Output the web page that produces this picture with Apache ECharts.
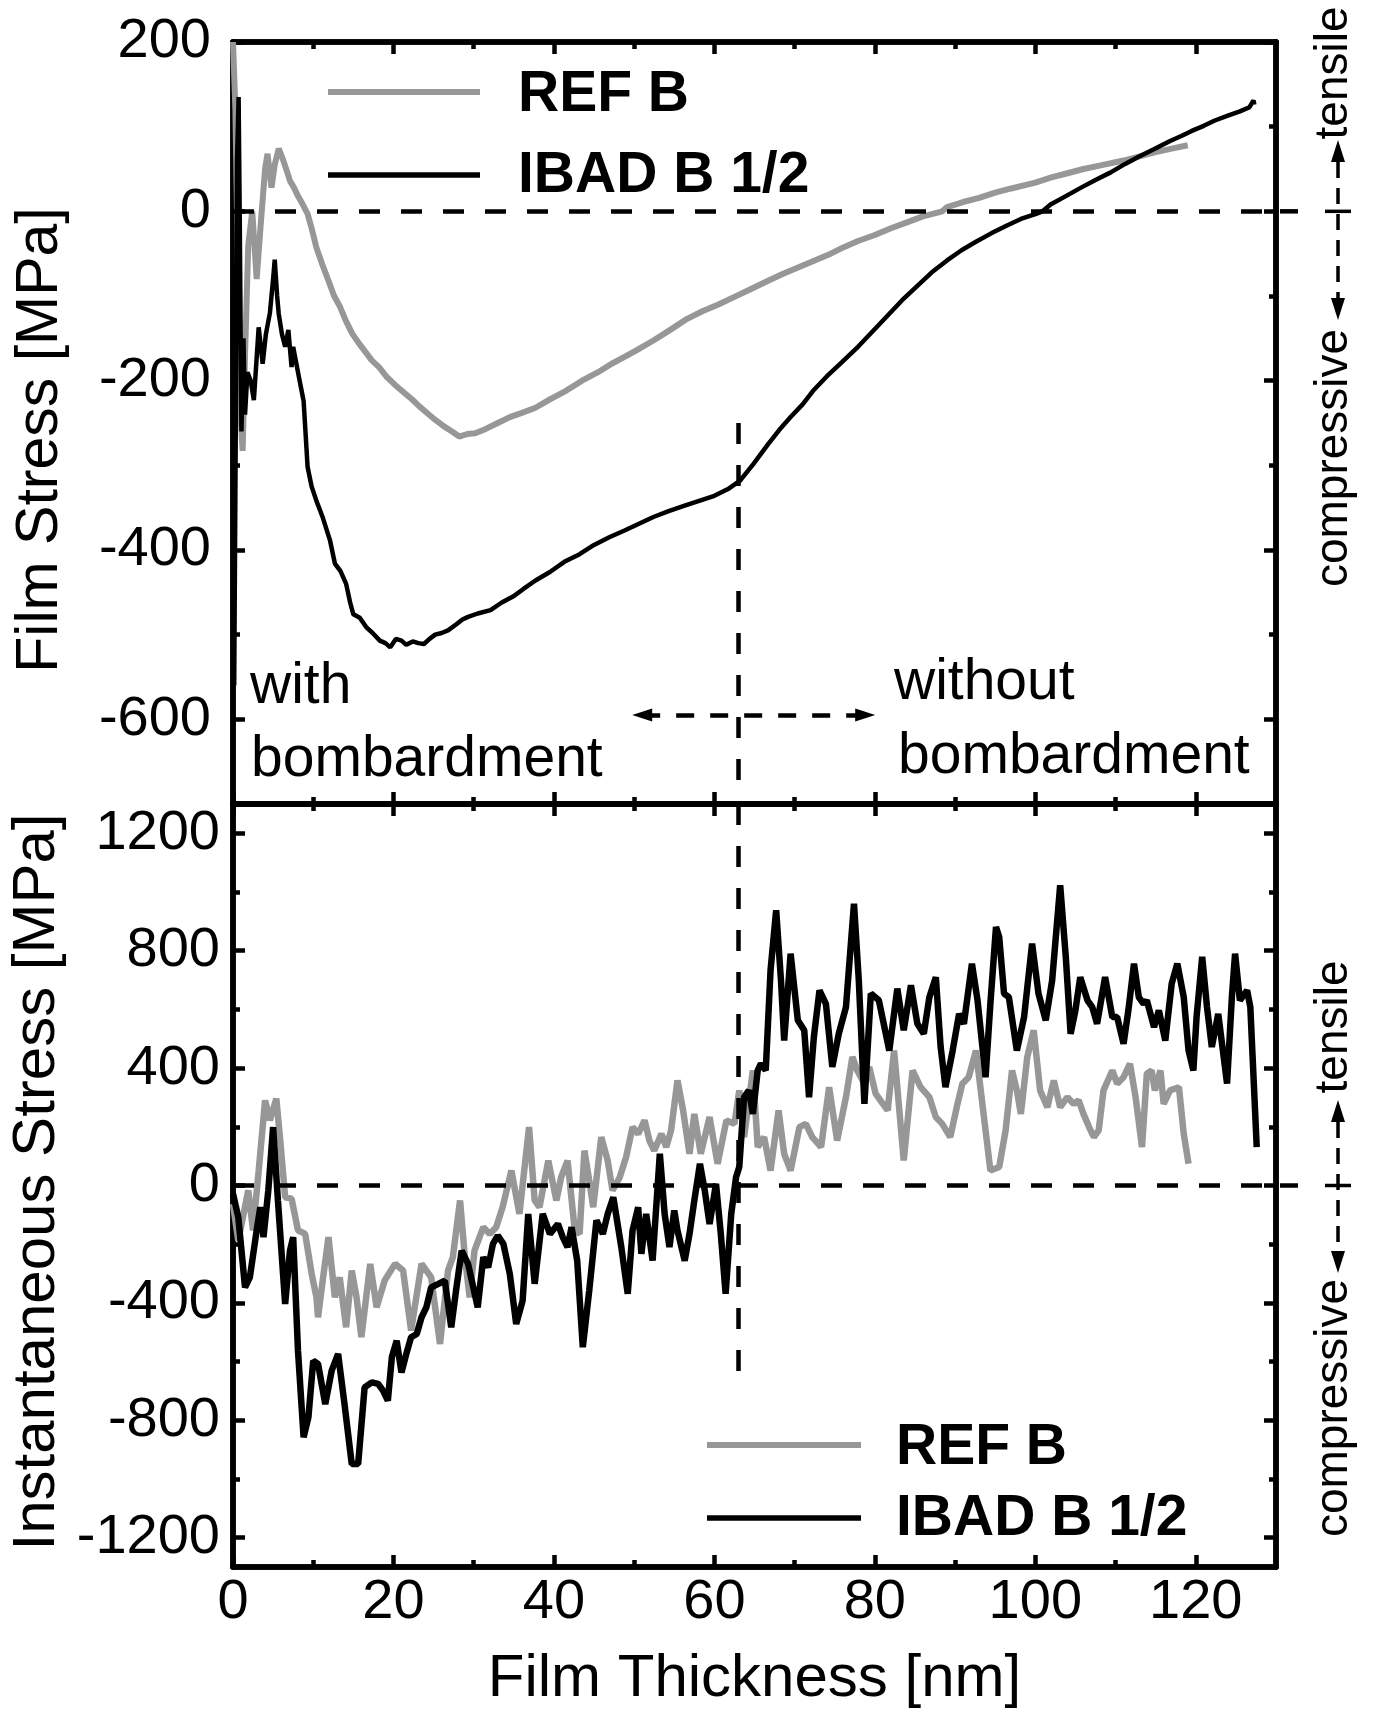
<!DOCTYPE html>
<html><head><meta charset="utf-8">
<script src="https://cdn.jsdelivr.net/npm/echarts@6/dist/echarts.min.js"></script>
<style>html,body{margin:0;padding:0;background:#fff}#c{width:1381px;height:1716px}</style>
</head><body><div id="c"></div>
<script>
// ---------------- data ----------------
const xTicks = [0, 20, 40, 60, 80, 100, 120];
const xMinorTicks = [10, 30, 50, 70, 90, 110];
const filmTicks = [-600, -400, -200, 0, 200];
const filmMinorTicks = [-500, -300, -100, 100];
const instTicks = [-1200, -800, -400, 0, 400, 800, 1200];
const instMinorTicks = [-1000, -600, -200, 200, 600, 1000];
const seriesNames = ['REF B', 'IBAD B 1/2'];
const boundaryThickness = 63;

// film stress vs thickness, REF B  [nm, MPa]
const refFilm = [[0,200],[0.3,120],[0.7,-120],[1.0,-250],[1.2,-283],[1.5,-170],[1.9,-40],[2.4,0],[2.95,-80],[3.5,-10],[4.0,50],[4.3,68],[4.8,28],[5.2,55],[5.7,74],[6.2,62],[6.7,48],[7.1,36],[7.6,28],[8.1,18],[8.7,8],[9.3,-3],[9.8,-20],[10.4,-43],[11.1,-62],[11.9,-82],[12.6,-100],[13.3,-112],[14.1,-130],[14.9,-145],[15.7,-156],[16.5,-166],[17.3,-176],[18.2,-184],[19.2,-196],[20.2,-205],[21.3,-214],[22.3,-222],[23.3,-231],[24.3,-239],[25.3,-247],[26.3,-254],[27.3,-260],[28.2,-266],[29.2,-263],[30.2,-262],[31.5,-257],[33.0,-250],[34.5,-243],[36.0,-238],[37.7,-232],[39.5,-222],[41.5,-212],[43.5,-200],[45.5,-190],[47.2,-180],[48.8,-172],[50.5,-163],[52.5,-152],[54.5,-140],[56.6,-127],[58.5,-118],[60.5,-110],[62.5,-101],[64.5,-92],[66.7,-82],[68.5,-74],[70.5,-66],[72.5,-58],[74.5,-50],[76.2,-42],[77.9,-35],[80,-28],[82,-20],[84,-13],[86,-6],[88.4,0],[89,5],[91,11],[93,16],[95,22],[97,27],[100,34],[102,40],[104,45],[106,50],[108,54],[111,60],[113,65],[115,70],[117,74],[119,78]];

// film stress vs thickness, IBAD B 1/2
const ibadFilm = [[0,-100],[0.15,-560],[0.35,-250],[0.5,60],[0.7,135],[0.85,-20],[1.05,-260],[1.3,-150],[1.5,-240],[1.8,-190],[2.2,-200],[2.6,-223],[3.2,-137],[3.7,-180],[4.1,-145],[4.6,-120],[5.0,-80],[5.2,-57],[5.5,-100],[5.7,-121],[6.1,-145],[6.5,-160],[6.9,-140],[7.3,-184],[7.5,-160],[8.2,-195],[8.8,-224],[9.3,-302],[9.8,-325],[10.4,-342],[11.2,-362],[12.1,-389],[12.7,-416],[13.4,-425],[14.1,-440],[14.6,-462],[15.0,-476],[15.8,-480],[16.6,-491],[17.4,-498],[18.3,-507],[19.0,-510],[19.6,-515],[20.3,-505],[21.0,-507],[21.6,-512],[22.4,-508],[23.1,-510],[23.8,-511],[24.5,-505],[25.2,-500],[26.0,-498],[26.8,-495],[27.8,-488],[28.6,-482],[29.3,-479],[30.5,-475],[32.1,-471],[33.5,-462],[34.9,-455],[36.2,-446],[37.7,-436],[39.5,-426],[41.3,-414],[43.2,-405],[45,-394],[46.9,-385],[48.8,-377],[50.6,-369],[52.4,-361],[54.3,-354],[56.2,-348],[58.1,-342],[60,-336],[61.7,-328],[63.2,-318],[64.9,-298],[66.7,-275],[68.1,-258],[69.5,-243],[71,-228],[72.3,-212],[74,-195],[75.9,-178],[77.9,-160],[79.8,-141],[81.6,-123],[83.4,-105],[85.3,-88],[87.1,-72],[89,-58],[90.8,-46],[92.6,-36],[94.5,-26],[96.4,-17],[98.2,-9],[100.1,-3],[100.9,0],[101.9,8],[103.8,18],[105.7,28],[107.5,37],[109.4,46],[111.2,56],[113,65],[114.9,74],[116.8,83],[118.2,89],[119.5,95],[121,101],[122.3,107],[124,113],[125.5,118],[126.7,123],[127.2,131],[127.3,126]];

// instantaneous stress vs thickness, REF B
const refInst = [[0,-63],[0.66,-188],[1.9,-17],[2.5,-153],[3.2,50],[4.0,290],[4.6,222],[5.4,296],[5.9,150],[6.5,-40],[7.3,-45],[8.1,-153],[9.0,-165],[9.8,-300],[10.4,-381],[10.6,-449],[11.2,-320],[11.9,-176],[12.7,-381],[13.3,-313],[14.1,-483],[14.8,-290],[15.4,-381],[16.0,-517],[17.1,-267],[17.9,-415],[18.9,-324],[20.2,-267],[21.2,-290],[22.2,-494],[23.5,-267],[24.7,-313],[25.8,-540],[26.8,-290],[27.4,-244],[28.3,-51],[28.9,-244],[29.5,-381],[30.1,-222],[31.2,-142],[32.0,-165],[32.8,-142],[33.6,-74],[34.7,51],[35.7,-97],[36.9,199],[37.6,-51],[38.2,-74],[39.3,85],[40.3,-51],[40.9,28],[41.7,85],[42.6,-153],[43.2,-165],[43.8,119],[44.4,17],[44.9,-74],[45.9,165],[46.7,85],[47.3,-17],[48.2,28],[49.0,97],[49.8,199],[50.5,176],[51.3,222],[51.9,153],[52.5,119],[53.4,176],[54.0,131],[54.6,188],[55.4,358],[56.1,256],[56.9,108],[57.5,244],[58.3,108],[59.4,233],[60.4,74],[61.5,222],[62.5,210],[63.1,324],[63.7,165],[64.8,392],[65.4,131],[66.2,165],[67.0,51],[68.0,256],[68.7,108],[69.5,51],[70.6,199],[71.4,210],[72.2,165],[73.3,131],[74.3,335],[75.3,153],[76.4,301],[77.2,438],[77.8,392],[78.7,347],[79.3,404],[80.1,313],[81.0,278],[81.6,256],[82.4,460],[83.6,85],[84.7,392],[85.7,335],[86.8,301],[87.6,233],[88.4,210],[89.4,165],[90.3,278],[90.9,347],[91.7,369],[92.6,460],[93.8,188],[94.4,51],[95.5,63],[96.3,188],[97.1,392],[97.7,324],[98.2,244],[99.0,438],[99.8,529],[100.6,324],[101.5,267],[102.3,358],[103.1,267],[104.0,301],[104.8,278],[105.4,290],[106.0,244],[106.7,199],[107.3,165],[107.9,188],[108.5,324],[109.6,392],[110.2,347],[111.0,369],[111.8,415],[112.5,301],[113.3,131],[113.9,381],[114.5,392],[114.9,324],[115.6,392],[116.0,278],[116.8,324],[117.9,335],[118.5,176],[119.1,74]];

// instantaneous stress vs thickness, IBAD B 1/2
const ibadInst = [[0,-28],[0.66,-108],[1.5,-347],[2.1,-313],[2.95,-153],[3.4,-74],[3.8,-176],[4.4,-17],[5.0,199],[5.6,-51],[6.5,-404],[7.1,-222],[7.5,-176],[8.1,-563],[8.8,-858],[9.4,-790],[10.0,-597],[10.6,-608],[11.5,-745],[12.3,-631],[13.1,-574],[13.9,-745],[14.8,-949],[15.6,-949],[16.4,-688],[17.3,-671],[18.1,-676],[18.7,-699],[19.3,-733],[19.8,-585],[20.4,-529],[21.0,-637],[21.6,-574],[22.2,-517],[22.9,-506],[23.5,-449],[24.1,-415],[24.7,-347],[25.6,-335],[26.4,-324],[27.2,-483],[27.8,-358],[28.5,-222],[29.3,-267],[30.5,-415],[31.2,-244],[31.8,-279],[32.4,-199],[33.0,-171],[33.7,-199],[34.5,-301],[35.3,-472],[36.1,-392],[36.8,-97],[37.6,-335],[38.6,-97],[39.5,-165],[40.5,-131],[41.1,-176],[41.7,-210],[42.2,-142],[42.9,-256],[43.6,-551],[44.4,-358],[45.3,-119],[46.1,-165],[46.7,-97],[47.4,-40],[48.4,-210],[49.2,-369],[49.8,-153],[50.5,-74],[50.9,-233],[51.5,-97],[52.3,-256],[53.2,108],[53.8,-97],[54.4,-210],[55.0,-85],[55.4,-153],[56.3,-256],[56.9,-165],[57.5,-51],[58.2,74],[58.8,-17],[59.4,-131],[60.2,6],[60.8,-165],[61.4,-369],[62.1,-97],[62.7,28],[63.1,63],[63.7,301],[64.3,324],[64.8,244],[65.4,392],[65.8,415],[66.4,392],[67.0,733],[67.7,938],[68.3,699],[68.7,494],[69.5,790],[70.4,563],[71.2,529],[71.8,301],[72.4,506],[73.1,665],[73.9,619],[74.7,404],[75.5,517],[76.4,608],[77.4,960],[78.0,699],[78.7,278],[79.5,654],[80.5,631],[81.8,460],[82.8,671],[83.6,529],[84.5,682],[85.3,551],[86.1,517],[86.8,642],[87.6,710],[88.2,472],[88.8,335],[89.7,460],[90.5,585],[91.1,551],[92.1,756],[92.8,631],[93.8,369],[94.4,619],[95.1,881],[95.5,847],[96.1,654],[96.7,642],[97.7,460],[98.6,574],[99.6,824],[100.4,654],[101.3,563],[102.1,699],[103.1,1023],[103.8,779],[104.4,517],[105.0,597],[105.6,710],[106.5,631],[107.1,608],[107.7,551],[108.7,710],[109.6,574],[110.2,574],[111.0,483],[111.6,597],[112.3,756],[112.9,642],[113.5,619],[113.9,631],[114.8,540],[115.4,597],[116.2,494],[117.0,688],[117.7,756],[118.5,642],[119.1,460],[119.7,392],[120.1,574],[120.8,779],[121.4,608],[122.0,472],[122.8,585],[123.9,347],[124.5,642],[124.9,790],[125.5,631],[126.4,665],[126.8,608],[127.6,131]];

// ---------------- chart ----------------
const FONT = 'Liberation Sans, Arial, Helvetica, sans-serif';
const GRAY = '#979797';
const AXL = {color: '#000', width: 5.5};
const TKL = {color: '#000', width: 4.5};
const plain = v => String(v);

function xAx(gridIndex, position, ticks, len, label, extra) {
  return Object.assign({
    type: 'value', gridIndex, position, min: 0, max: 130,
    axisLine: {show: true, onZero: false, lineStyle: AXL},
    axisTick: {show: true, inside: true, length: len, customValues: ticks, lineStyle: TKL},
    axisLabel: label ? {show: true, customValues: ticks, formatter: plain, fontSize: 56, color: '#000', margin: 8, fontFamily: FONT} : {show: false},
    splitLine: {show: false}
  }, extra || {});
}
function yAx(gridIndex, position, min, max, ticks, len, label, margin) {
  return {
    type: 'value', gridIndex, position, min, max,
    axisLine: {show: true, onZero: false, lineStyle: AXL},
    axisTick: {show: true, inside: true, length: len, customValues: ticks, lineStyle: TKL},
    axisLabel: label ? {show: true, customValues: ticks, formatter: plain, fontSize: 56, color: '#000', margin: margin, fontFamily: FONT} : {show: false},
    splitLine: {show: false}
  };
}

const chart = echarts.init(document.getElementById('c'), null, {renderer: 'canvas'});

const dashed = {color: '#000', width: 4.5, type: [21, 21]};

const option = {
  animation: false,
  backgroundColor: '#fff',
  textStyle: {fontFamily: FONT},
  grid: [
    {left: 233, top: 42, width: 1043, height: 762},
    {left: 233, top: 804, width: 1043, height: 763}
  ],
  xAxis: [
    xAx(0, 'bottom', xTicks, 12, false),
    xAx(0, 'top', xTicks, 12, false),
    xAx(0, 'bottom', xMinorTicks, 7, false),
    xAx(0, 'top', xMinorTicks, 7, false),
    xAx(1, 'bottom', xTicks, 12, true, {name: 'Film Thickness [nm]', nameLocation: 'middle', nameGap: 82,
      nameTextStyle: {fontSize: 60, color: '#000', fontFamily: FONT}}),
    xAx(1, 'top', xTicks, 12, false),
    xAx(1, 'bottom', xMinorTicks, 7, false),
    xAx(1, 'top', xMinorTicks, 7, false)
  ],
  yAxis: [
    yAx(0, 'left', -700, 200, filmTicks, 12, true, 22),
    yAx(0, 'right', -700, 200, filmTicks, 12, false),
    yAx(0, 'left', -700, 200, filmMinorTicks, 7, false),
    yAx(0, 'right', -700, 200, filmMinorTicks, 7, false),
    yAx(1, 'left', -1300, 1300, instTicks, 12, true, 13),
    yAx(1, 'right', -1300, 1300, instTicks, 12, false),
    yAx(1, 'left', -1300, 1300, instMinorTicks, 7, false),
    yAx(1, 'right', -1300, 1300, instMinorTicks, 7, false)
  ],
  series: [
    {type: 'line', name: seriesNames[0], xAxisIndex: 0, yAxisIndex: 0, data: refFilm, symbol: 'none',
      lineStyle: {color: GRAY, width: 6}, itemStyle: {color: GRAY}, z: 2,
      markLine: {silent: true, symbol: 'none', label: {show: false}, lineStyle: dashed, animation: false,
        data: [
          {yAxis: 0},
          [{coord: [boundaryThickness, -250]}, {coord: [boundaryThickness, -700]}]
        ]}},
    {type: 'line', name: seriesNames[1], xAxisIndex: 0, yAxisIndex: 0, data: ibadFilm, symbol: 'none',
      lineStyle: {color: '#000', width: 4.5}, itemStyle: {color: '#000'}, z: 3,
      markLine: {silent: true, symbol: ['triangle', 'triangle'], symbolSize: [13, 20], label: {show: false},
        lineStyle: {color: '#000', width: 4.5, type: [18, 16]}, animation: false,
        data: [[{coord: [51.0, -595]}, {coord: [78.8, -595]}]]}},
    {type: 'line', name: seriesNames[0], xAxisIndex: 4, yAxisIndex: 4, data: refInst, symbol: 'none',
      lineStyle: {color: GRAY, width: 6.5}, itemStyle: {color: GRAY}, z: 2,
      markLine: {silent: true, symbol: 'none', label: {show: false}, lineStyle: dashed, animation: false,
        data: [
          {yAxis: 0},
          [{coord: [boundaryThickness, 1300]}, {coord: [boundaryThickness, -655]}]
        ]}},
    {type: 'line', name: seriesNames[1], xAxisIndex: 4, yAxisIndex: 4, data: ibadInst, symbol: 'none',
      lineStyle: {color: '#000', width: 6.5}, itemStyle: {color: '#000'}, z: 3}
  ]
};
chart.setOption(option);

// ---------- annotations (positions derived from the axes) ----------
const y0Top = chart.convertToPixel({xAxisIndex: 0, yAxisIndex: 0}, [0, 0])[1];
const y0Bot = chart.convertToPixel({xAxisIndex: 4, yAxisIndex: 4}, [0, 0])[1];
const xRight = chart.convertToPixel({xAxisIndex: 0, yAxisIndex: 0}, [130, 0])[0];

function sideNote(y0, upTip, downTip, tenY, compY) {
  const x = 1338;
  const ah = 22, aw = 7;
  return [
    {type: 'line', shape: {x1: xRight + 4, y1: y0, x2: xRight + 22, y2: y0}, style: {stroke: '#000', lineWidth: 4.5}},
    {type: 'line', shape: {x1: x - 13, y1: y0, x2: x + 13, y2: y0}, style: {stroke: '#000', lineWidth: 3.5}},
    {type: 'line', shape: {x1: x, y1: upTip + ah, x2: x, y2: downTip - ah}, style: {stroke: '#000', lineWidth: 3.5, lineDash: [16, 10]}},
    {type: 'polygon', shape: {points: [[x, upTip], [x - aw, upTip + ah], [x + aw, upTip + ah]]}, style: {fill: '#000'}},
    {type: 'polygon', shape: {points: [[x, downTip], [x - aw, downTip - ah], [x + aw, downTip - ah]]}, style: {fill: '#000'}},
    {type: 'text', x: 1334, y: tenY, rotation: Math.PI / 2,
      style: {text: 'tensile', fontSize: 46, fontFamily: FONT, fill: '#000', align: 'center', verticalAlign: 'middle'}},
    {type: 'text', x: 1334, y: compY, rotation: Math.PI / 2,
      style: {text: 'compressive', fontSize: 46, fontFamily: FONT, fill: '#000', align: 'center', verticalAlign: 'middle'}}
  ];
}
function txt(text, x, y, size, bold) {
  return {type: 'text', x, y, style: {text, fontSize: size, fontWeight: bold ? 'bold' : 'normal', fontFamily: FONT, fill: '#000', align: 'left', verticalAlign: 'middle'}};
}
// legend key: sample line + series name, for each panel
function legendKey(x1, x2, yRef, yIbad, textX) {
  return [
    {type: 'line', shape: {x1, y1: yRef, x2, y2: yRef}, style: {stroke: GRAY, lineWidth: 6}},
    {type: 'line', shape: {x1, y1: yIbad, x2, y2: yIbad}, style: {stroke: '#000', lineWidth: 5.5}},
    txt(seriesNames[0], textX, yRef + 3, 57, true),
    txt(seriesNames[1], textX, yIbad + 1, 57, true)
  ];
}

chart.setOption({
  graphic: [].concat(
    sideNote(y0Top, 140, 320, 73, 458),
    sideNote(y0Bot, 1100, 1273, 1027, 1408),
    legendKey(328, 480, 92, 175, 518),
    legendKey(707, 861, 1445, 1518, 896),
    [
      txt('with', 250, 687, 57),
      txt('bombardment', 251, 760, 57),
      txt('without', 894, 683, 57),
      txt('bombardment', 898, 757, 57),
      {type: 'text', x: 41, y: 440, rotation: Math.PI / 2,
        style: {text: 'Film Stress [MPa]', fontSize: 59, fontFamily: FONT, fill: '#000', align: 'center', verticalAlign: 'middle'}},
      {type: 'text', x: 37, y: 1182, rotation: Math.PI / 2,
        style: {text: 'Instantaneous Stress [MPa]', fontSize: 60, fontFamily: FONT, fill: '#000', align: 'center', verticalAlign: 'middle'}}
    ]
  )
});
</script></body></html>
